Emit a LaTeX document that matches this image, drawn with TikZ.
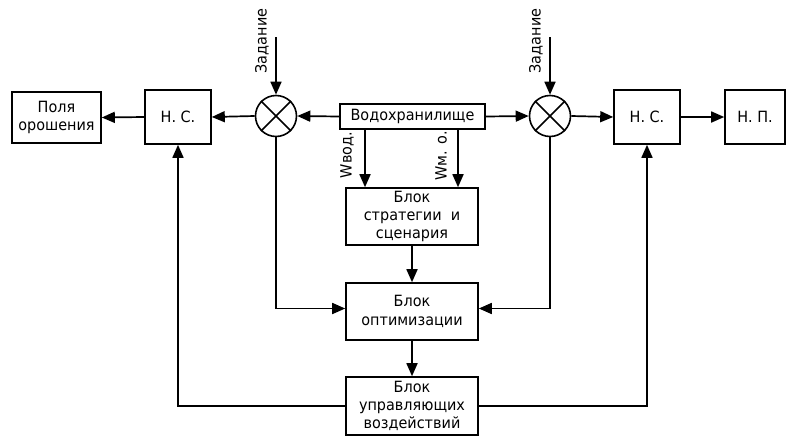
\documentclass[tikz,border=0pt]{standalone}
\usepackage{fontspec}
\setmainfont{DejaVu Sans}[FakeStretch=0.93]
\usetikzlibrary{arrows.meta}
\tikzset{x=1pt, y=-1pt,
 blok/.style={draw, line width=1.6pt, align=center, inner sep=0pt,
  font=\fontsize{15.5}{18.3}\selectfont},
 summa/.style={draw, circle, line width=1.6pt, minimum size=41pt, inner sep=0pt},
 strelka/.style={line width=1.7pt, -{Triangle[length=13pt,width=11pt]}},
 linija/.style={line width=1.6pt},
 podpis/.style={rotate=90, inner sep=0pt, font=\fontsize{15.5}{18}\selectfont},
 }

\begin{document}
\begin{tikzpicture}
        \useasboundingbox (0,0) rectangle (790,437);
        % верхний ряд
        \node[blok, minimum width=89pt, minimum height=51pt] (pole) at (56.5, 117.5) {Поля\\орошения};
        \node[blok, minimum width=66pt, minimum height=54pt] (ns1) at (178, 117) {Н. С.};
        \node[summa] (sum1) at (276, 116) {};
        \node[blok, minimum width=145pt, minimum height=25pt] (vodo) at (412.5, 116.5) {Водохранилище};
        \node[summa] (sum2) at (550, 116) {};
        \node[blok, minimum width=66pt, minimum height=54pt] (ns2) at (647, 117) {Н. С.};
        \node[blok, minimum width=60pt, minimum height=54pt] (np) at (755, 117) {Н. П.};
        % средний столбец
        \node[blok, minimum width=132pt, minimum height=57pt] (strat) at (412, 216.5) {Блок\\стратегии~~и\\сценария};
        \node[blok, minimum width=132pt, minimum height=57pt] (opt) at (412, 311.5) {Блок\\оптимизации};
        \node[blok, minimum width=132pt, minimum height=58pt] (upr) at (412, 406) {Блок\\управляющих\\воздействий};
        % кресты в сумматорах
        \draw[linija] (sum1.north west) -- (sum1.south east);
        \draw[linija] (sum1.north east) -- (sum1.south west);
        \draw[linija] (sum2.north west) -- (sum2.south east);
        \draw[linija] (sum2.north east) -- (sum2.south west);
        % задание
        \coordinate (zad1) at (276, 37);
        \coordinate (zad2) at (550, 37);
        \draw[strelka] (zad1) -- (sum1.north);
        \draw[strelka] (zad2) -- (sum2.north);
        \node[podpis] (tz1) at (262, 41) {Задание};
        \node[podpis] (tz2) at (536, 41) {Задание};
        % связи
        \draw[strelka] (vodo.west) -- (sum1.east);
        \draw[strelka] (vodo.east) -- (sum2.west);
        \draw[strelka] (sum1.west) -- (ns1.east);
        \draw[strelka] (ns1.west) -- (pole.east);
        \draw[strelka] (sum2.east) -- (ns2.west);
        \draw[strelka] (ns2.east) -- (np.west);
        \draw[strelka] ([xshift=-47.5pt]vodo.south) -- ([xshift=-47pt]strat.north);
        \draw[strelka] ([xshift=45.5pt]vodo.south) -- ([xshift=46pt]strat.north);
        \node[podpis] (wvod) at (347, 155) {Wвод.};
        \node[podpis] (wmo) at (441, 156) {Wм. о.};
        \draw[strelka] (strat.south) -- (opt.north);
        \draw[strelka] (opt.south) -- (upr.north);
        \draw[strelka] (sum1.south) |- ([yshift=3pt]opt.west);
        \draw[strelka] (sum2.south) |- ([yshift=3pt]opt.east);
        \draw[strelka] (upr.west) -| (ns1.south);
        \draw[strelka] (upr.east) -| (ns2.south);
    \end{tikzpicture}
\end{document}
